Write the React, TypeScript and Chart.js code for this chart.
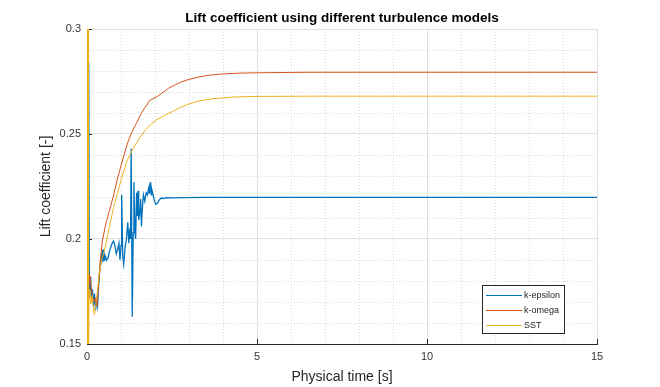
import { useEffect, useRef } from 'react';
import { Chart, registerables } from 'chart.js';

Chart.register(...registerables);

const titleText = 'Lift coefficient using different turbulence models';
const xTitle = 'Physical time [s]';
const yTitle = 'Lift coefficient [-]';

const xMajorTicks = [0, 5, 10, 15];
const xMinorTicks = [1, 2, 3, 4, 6, 7, 8, 9, 11, 12, 13, 14];
const yMajorTicks = [0.15, 0.2, 0.25, 0.3];
const yMinorTicks = [0.16, 0.17, 0.18, 0.19, 0.21, 0.22, 0.23, 0.24, 0.26, 0.27, 0.28, 0.29];

const seriesLabels = ['k-epsilon', 'k-omega', 'SST'];
const seriesColors = ['#0072BD', '#D95319', '#EDB120'];
const seriesWidths = [1.3, 1, 1];

// [time s, lift coefficient]
const kEpsilon: [number, number][] = [
  [0, 0.155], [0.05, 0.284], [0.07, 0.172], [0.09, 0.182], [0.11, 0.178], [0.13, 0.172],
  [0.16, 0.176], [0.19, 0.168], [0.22, 0.174], [0.25, 0.166], [0.28, 0.171], [0.31, 0.168],
  [0.34, 0.177], [0.37, 0.184], [0.4, 0.188], [0.43, 0.192], [0.45, 0.195], [0.46, 0.189],
  [0.47, 0.194], [0.48, 0.19], [0.49, 0.195], [0.5, 0.19], [0.51, 0.193], [0.52, 0.19],
  [0.53, 0.192], [0.55, 0.191], [0.58, 0.19], [0.62, 0.191], [0.66, 0.194], [0.7, 0.196],
  [0.74, 0.198], [0.78, 0.199], [0.82, 0.197], [0.86, 0.193], [0.9, 0.195], [0.94, 0.198],
  [0.97, 0.19], [1.0, 0.197], [1.02, 0.221], [1.05, 0.192], [1.08, 0.188], [1.12, 0.196],
  [1.16, 0.2], [1.2, 0.208], [1.23, 0.198], [1.26, 0.205], [1.28, 0.2], [1.3, 0.243],
  [1.33, 0.163], [1.36, 0.203], [1.38, 0.227], [1.41, 0.204], [1.43, 0.2], [1.46, 0.222],
  [1.48, 0.211], [1.5, 0.223], [1.52, 0.209], [1.55, 0.212], [1.58, 0.219], [1.6, 0.206],
  [1.63, 0.215], [1.66, 0.221], [1.7, 0.218], [1.74, 0.222], [1.78, 0.221], [1.81, 0.224],
  [1.83, 0.222], [1.84, 0.226], [1.85, 0.223], [1.86, 0.227], [1.87, 0.222], [1.88, 0.226],
  [1.89, 0.221], [1.9, 0.224], [1.93, 0.222], [1.97, 0.219], [2.02, 0.2165], [2.07, 0.217],
  [2.12, 0.2185], [2.18, 0.2195], [2.25, 0.2193], [2.35, 0.2197], [2.5, 0.2196], [2.8, 0.2197],
  [3.5, 0.2198], [5, 0.2198], [8, 0.2198], [11, 0.2198], [15, 0.2198],
];

const kOmega: [number, number][] = [
  [0, 0.4], [0.012, 0.13], [0.024, 0.4], [0.036, 0.172], [0.055, 0.178], [0.075, 0.183],
  [0.1, 0.181], [0.13, 0.176], [0.17, 0.172], [0.21, 0.17], [0.25, 0.172], [0.29, 0.168],
  [0.33, 0.176], [0.38, 0.188], [0.45, 0.199], [0.55, 0.207], [0.65, 0.213], [0.77, 0.22],
  [0.9, 0.229], [1.07, 0.239], [1.2, 0.246], [1.32, 0.251], [1.45, 0.255], [1.57, 0.259],
  [1.7, 0.2625], [1.86, 0.2662], [2.06, 0.2678], [2.25, 0.27], [2.4, 0.2718], [2.6, 0.2735],
  [2.79, 0.2749], [3.0, 0.276], [3.3, 0.2772], [3.6, 0.278], [4.0, 0.2786], [4.5, 0.279],
  [5.3, 0.2792], [6.5, 0.2794], [8, 0.2794], [15, 0.2794],
];

const sst: [number, number][] = [
  [0, 0.1], [0.006, 0.4], [0.018, 0.1], [0.03, 0.4], [0.045, 0.14], [0.06, 0.172],
  [0.08, 0.176], [0.11, 0.169], [0.15, 0.173], [0.19, 0.167], [0.22, 0.164], [0.26, 0.169],
  [0.3, 0.174], [0.35, 0.182], [0.42, 0.189], [0.54, 0.1964], [0.65, 0.205], [0.78, 0.215],
  [0.9, 0.222], [1.0, 0.228], [1.17, 0.237], [1.32, 0.242], [1.45, 0.2455], [1.57, 0.2487],
  [1.7, 0.2515], [1.86, 0.2543], [2.05, 0.2568], [2.3, 0.259], [2.55, 0.261], [2.79, 0.263],
  [3.0, 0.2643], [3.28, 0.2657], [3.7, 0.2668], [4.3, 0.2676], [5, 0.2679], [6.5, 0.268],
  [15, 0.268],
];

const seriesData = [kEpsilon, kOmega, sst];

const FONT = "'Liberation Sans', Arial, Helvetica, sans-serif";

const matlabDecor = {
  id: 'matlabDecor',
  beforeDatasetsDraw(chart: any) {
    const { ctx, chartArea: a, scales } = chart;
    const x = scales.x;
    const y = scales.y;
    ctx.save();
    ctx.strokeStyle = '#d9d9d9';
    ctx.lineWidth = 1;
    ctx.setLineDash([1, 2]);
    ctx.beginPath();
    for (const v of xMinorTicks) {
      const px = Math.round(x.getPixelForValue(v)) + 0.5;
      ctx.moveTo(px, a.top);
      ctx.lineTo(px, a.bottom);
    }
    for (const v of yMinorTicks) {
      const py = Math.round(y.getPixelForValue(v)) + 0.5;
      ctx.moveTo(a.left, py);
      ctx.lineTo(a.right, py);
    }
    ctx.stroke();
    ctx.setLineDash([]);
    ctx.strokeStyle = '#262626';
    ctx.beginPath();
    for (const v of xMajorTicks) {
      const px = Math.round(x.getPixelForValue(v)) + 0.5;
      ctx.moveTo(px, a.bottom);
      ctx.lineTo(px, a.bottom - 5);
    }
    for (const v of yMajorTicks) {
      const py = Math.round(y.getPixelForValue(v)) + 0.5;
      ctx.moveTo(a.left, py);
      ctx.lineTo(a.left + 5, py);
    }
    ctx.stroke();
    ctx.restore();
  },
  afterDraw(chart: any) {
    const { ctx, chartArea: a } = chart;
    ctx.save();
    // title centred over the plot area
    ctx.font = `bold 13.5px ${FONT}`;
    ctx.fillStyle = '#000000';
    ctx.textAlign = 'center';
    ctx.textBaseline = 'middle';
    ctx.fillText(titleText, (a.left + a.right) / 2, 18.5);
    // legend
    ctx.font = `9px ${FONT}`;
    const labels = chart.data.datasets.map((d: any) => d.label);
    const textW = Math.max(...labels.map((l: string) => ctx.measureText(l).width));
    const lineLen = 36;
    const w = Math.round(4 + lineLen + 2 + textW + 4);
    const h = 48;
    const right = Math.round(a.right - 33);
    const bottom = Math.round(a.bottom - 11);
    const left = right - w;
    const top = bottom - h;
    ctx.fillStyle = '#ffffff';
    ctx.fillRect(left, top, w, h);
    ctx.strokeStyle = '#262626';
    ctx.lineWidth = 1;
    ctx.strokeRect(left + 0.5, top + 0.5, w, h);
    chart.data.datasets.forEach((d: any, i: number) => {
      const ry = Math.round(top + 9.5 + i * 15) + 0.5;
      ctx.strokeStyle = d.borderColor;
      ctx.lineWidth = 1;
      ctx.beginPath();
      ctx.moveTo(left + 4, ry);
      ctx.lineTo(left + 4 + lineLen, ry);
      ctx.stroke();
      ctx.fillStyle = '#262626';
      ctx.textBaseline = 'middle';
      ctx.textAlign = 'left';
      ctx.fillText(d.label, left + 4 + lineLen + 2, ry);
    });
    ctx.restore();
  },
};

export default function App() {
  const canvasRef = useRef<HTMLCanvasElement | null>(null);

  useEffect(() => {
    document.body.style.margin = '0';
    const canvas = canvasRef.current;
    if (!canvas) return;
    const chart = new Chart(canvas, {
      type: 'scatter',
      data: {
        datasets: seriesData.map((s, i) => ({
          label: seriesLabels[i],
          data: s.map(([t, v]) => ({ x: t, y: v })),
          showLine: true,
          borderColor: seriesColors[i],
          backgroundColor: seriesColors[i],
          borderWidth: seriesWidths[i],
          pointRadius: 0,
          pointHoverRadius: 0,
          tension: 0,
          clip: 0,
          order: 3 - i,
        })),
      },
      options: {
        responsive: false,
        animation: false,
        events: [],
        layout: { padding: { left: 0, right: 63, top: 29, bottom: 0 } },
        plugins: {
          legend: { display: false },
          tooltip: { enabled: false },
          title: { display: false },
        },
        scales: {
          x: {
            type: 'linear',
            min: 0,
            max: 15,
            afterBuildTicks: (s: any) => {
              s.ticks = xMajorTicks.map((v) => ({ value: v }));
            },
            afterFit: (s: any) => {
              s.height = 43;
            },
            ticks: {
              color: '#333333',
              font: { family: FONT, size: 11 },
              padding: 6,
              maxRotation: 0,
              callback: (v: any) => String(v),
            },
            grid: { color: '#e0e0e0', lineWidth: 1, drawTicks: false },
            border: { display: true, color: '#262626', width: 1 },
            title: {
              display: true,
              text: xTitle,
              color: '#262626',
              font: { family: FONT, size: 14, lineHeight: 1.2 },
              padding: { top: 0, bottom: 1.6 },
            },
          },
          y: {
            type: 'linear',
            min: 0.15,
            max: 0.3,
            afterBuildTicks: (s: any) => {
              s.ticks = yMajorTicks.map((v) => ({ value: v }));
            },
            afterFit: (s: any) => {
              s.width = 87;
            },
            ticks: {
              color: '#333333',
              font: { family: FONT, size: 11 },
              padding: 6,
              callback: (v: any) => String(v),
            },
            grid: { color: '#e0e0e0', lineWidth: 1, drawTicks: false },
            border: { display: true, color: '#262626', width: 1 },
            title: {
              display: true,
              text: yTitle,
              color: '#262626',
              font: { family: FONT, size: 14, lineHeight: 1.2 },
              padding: { top: 37.6, bottom: 0 },
            },
          },
        },
      },
      plugins: [matlabDecor],
    });
    return () => chart.destroy();
  }, []);

  return (
    <div style={{ width: 660, height: 387, background: '#ffffff' }}>
      <canvas ref={canvasRef} width={660} height={387} style={{ display: 'block', width: 660, height: 387 }} />
    </div>
  );
}
